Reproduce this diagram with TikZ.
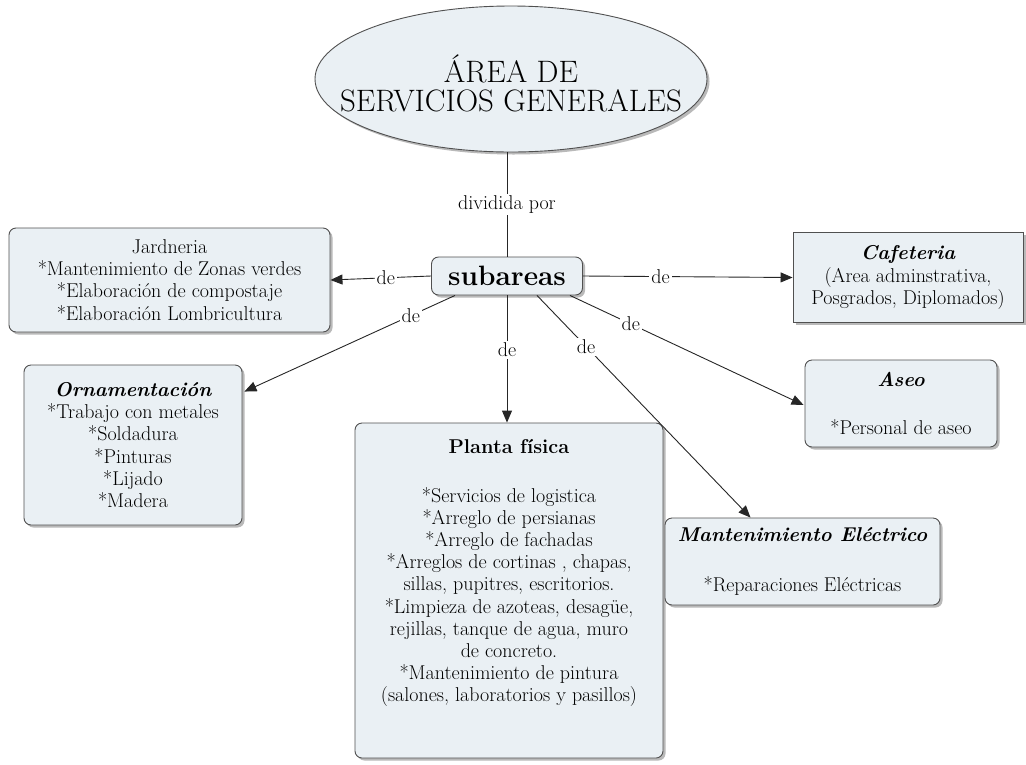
\documentclass[tikz,border=0pt]{standalone}
\usepackage{fontspec}
\usetikzlibrary{shapes.geometric,shadows,arrows.meta,calc}
\definecolor{boxfill}{HTML}{EAF0F4}
\definecolor{boxborder}{HTML}{505050}
\begin{document}
\begin{tikzpicture}[x=1pt,y=-1pt,
  shad/.style={drop shadow={shadow xshift=2.5pt,shadow yshift=-2.5pt,fill=black!55,opacity=0.5}},
  box/.style={draw=boxborder, fill=boxfill, rounded corners=7pt, line width=0.9pt,
    align=center, inner sep=0pt, font=\fontsize{20}{22.2}\selectfont, shad},
  conn/.style={draw=black!85, line width=0.9pt},
  arr/.style={conn, -{Triangle[length=12pt,width=10pt]}},
  lab/.style={fill=white, inner sep=2pt, font=\fontsize{20}{22}\selectfont},
]
\useasboundingbox (0,0) rectangle (1026,764);

\node[ellipse, draw=boxborder, fill=boxfill, line width=0.9pt, shad,
      minimum width=392pt, minimum height=146pt, inner sep=0pt,
      label={[align=center, font=\fontsize{31}{29}\selectfont, yshift=-4pt]center:ÁREA DE\\SERVICIOS GENERALES}]
      (ell) at (511,79) {};

\node[box, minimum width=151pt, minimum height=38pt, font=\fontsize{28}{30}\selectfont\bfseries]
      (sub) at (507,276) {subareas};

\node[box, minimum width=321pt, minimum height=104pt] (jard) at (169.5,280)
  {Jardneria\\*Mantenimiento de Zonas verdes\\*Elaboración de compostaje\\*Elaboración Lombricultura};

\node[box, rounded corners=0pt, minimum width=230pt, minimum height=90pt] (caf) at (908,277.5)
  {{\bfseries\itshape Cafeteria}\\(Area adminstrativa,\\Posgrados, Diplomados)};

\node[box, minimum width=218pt, minimum height=160pt] (orn) at (133,445)
  {{\bfseries\itshape Ornamentación}\\*Trabajo con metales\\*Soldadura\\*Pinturas\\*Lijado\\*Madera};

\node[box, minimum width=308pt, minimum height=335pt] (plan) at (509,590.5)
  {{\bfseries Planta física}\\[26pt]*Servicios de logistica\\*Arreglo de persianas\\*Arreglo de fachadas\\*Arreglos de cortinas , chapas,\\sillas, pupitres, escritorios.\\*Limpieza de azoteas, desagüe,\\rejillas, tanque de agua, muro\\de concreto.\\*Mantenimiento de pintura\\(salones, laboratorios y pasillos)\\[17pt]~};

\node[box, minimum width=192pt, minimum height=87pt] (aseo) at (901,403.5)
  {{\bfseries\itshape Aseo}\\[25pt]*Personal de aseo};

\node[box, minimum width=275pt, minimum height=87pt] (mant) at (802.5,561.5)
  {{\bfseries\itshape Mantenimiento Eléctrico}\\[27pt]*Reparaciones Eléctricas};

\draw[conn] (ell.south -| sub.north) -- node[lab]{dividida por} (sub.north);
\draw[arr] (sub.west) -- node[lab, pos=0.45]{de} (jard.east);
\draw[arr] (sub.east) -- node[lab, pos=0.37]{de} (caf.west);
\draw[arr] ($(sub.south)+(-52,0)$) -- node[lab, pos=0.21]{de} ($(orn.north east)+(2,27)$);
\draw[arr] (sub.south) -- node[lab, pos=0.43]{de} (sub.south |- plan.north);
\draw[arr] ($(sub.south)+(63,0)$) -- node[lab, pos=0.26]{de} ($(aseo.west)+(-1,1.5)$);
\draw[arr] ($(sub.south)+(30,0)$) -- node[lab, pos=0.23]{de} ($(mant.north)+(-52,0)$);
\end{tikzpicture}
\end{document}
